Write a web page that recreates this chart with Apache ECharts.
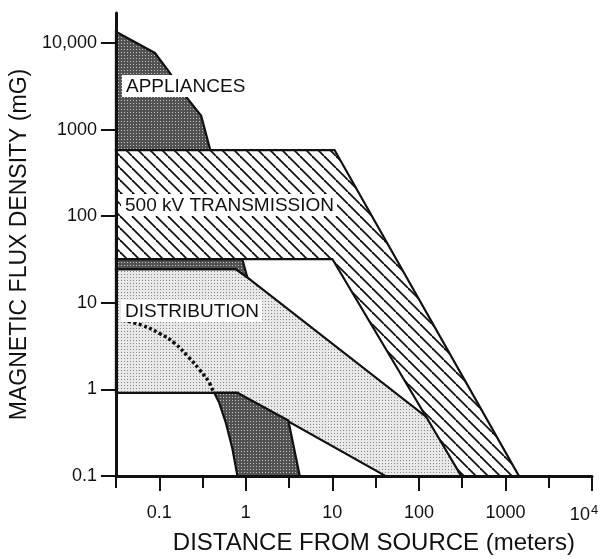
<!DOCTYPE html>
<html>
<head>
<meta charset="utf-8">
<script src="https://cdn.jsdelivr.net/npm/echarts@6/dist/echarts.min.js"></script>
<style>
html,body{margin:0;padding:0;background:#fff;}
#chart{width:611px;height:560px;}
</style>
</head>
<body>
<div id="chart"></div>
<script>
// ---------- data (distance in meters, flux density in mG) ----------
const xTicks = [0.1, 1, 10, 100, 1000, 10000];
const xTickLabels = ['0.1', '1', '10', '100', '1000', '{b|10}{s|4}'];
const xHalfTicks = [0.0316, 0.316, 3.16, 31.6, 316, 3162];
const yTicks = [0.1, 1, 10, 100, 1000, 10000];
const yTickLabels = ['0.1', '1', '10', '100', '1000', '10,000'];

const appliancesX = [0.0316, 0.089, 0.132, 0.206, 0.305, 0.389, 0.0316];
const appliancesY = [13500, 7670, 4560, 2370, 1445, 580, 580];

const transmissionX = [0.0316, 10.6, 1430, 309, 10, 0.0316];
const transmissionY = [580, 580, 0.1, 0.1, 32, 32];

const upperBandX = [0.0316, 0.91, 1.04, 0.766, 0.0316];
const upperBandY = [32, 32, 19.7, 24.5, 24.5];

const distributionX = [0.0316, 0.766, 1.04, 126, 309, 41, 0.80, 0.0316];
const distributionY = [24.5, 24.5, 19.7, 0.469, 0.1, 0.1, 0.912, 0.912];

const lowerBandX = [0.432, 0.80, 3.1, 4.2, 0.80, 0.70, 0.587, 0.493];
const lowerBandY = [0.912, 0.912, 0.438, 0.1, 0.1, 0.206, 0.414, 0.70];

const dottedX = [0.0379, 0.063, 0.102, 0.151, 0.214, 0.292, 0.379, 0.42];
const dottedY = [6.3, 5.5, 4.4, 3.4, 2.4, 1.69, 1.19, 0.93];

const labelTexts = ['APPLIANCES', '500 kV TRANSMISSION', 'DISTRIBUTION'];

// ---------- fill patterns ----------
function makeTile(w, h, draw) {
  const c = document.createElement('canvas');
  c.width = w; c.height = h;
  draw(c.getContext('2d'));
  return c;
}
const darkTile = makeTile(3, 3, g => {
  g.fillStyle = '#525252'; g.fillRect(0, 0, 3, 3);
  g.fillStyle = '#c0c0c0'; g.fillRect(1, 1, 1, 1);
});
const lightTile = makeTile(3, 3, g => {
  g.fillStyle = '#e8e8e8'; g.fillRect(0, 0, 3, 3);
  g.fillStyle = '#888888'; g.fillRect(1, 1, 1, 1);
});
const hatchTile = makeTile(12, 12, g => {
  g.fillStyle = '#ffffff'; g.fillRect(0, 0, 12, 12);
  g.strokeStyle = '#111'; g.lineWidth = 1.8;
  [-12, 0, 12].forEach(o => {
    g.beginPath(); g.moveTo(o, 0); g.lineTo(o + 12, 12); g.stroke();
  });
});
const darkFill = { image: darkTile, repeat: 'repeat' };
const lightFill = { image: lightTile, repeat: 'repeat' };
const hatchFill = { image: hatchTile, repeat: 'repeat' };

function polySeries(name, xs, ys, fill, z) {
  return {
    type: 'custom',
    name: name,
    coordinateSystem: 'cartesian2d',
    data: xs.map((x, i) => [x, ys[i]]),
    encode: { x: 0, y: 1 },
    z: z,
    silent: true,
    renderItem: function (params, api) {
      if (params.dataIndex !== 0) return null;
      const pts = xs.map((x, i) => api.coord([x, ys[i]]));
      return {
        type: 'polygon',
        shape: { points: pts },
        style: { fill: fill, stroke: '#111', lineWidth: 2.2, lineJoin: 'miter' }
      };
    }
  };
}

function labelIndex(arr, v) {
  return arr.findIndex(t => Math.abs(Math.log10(t) - Math.log10(v)) < 1e-4);
}

const FONT = '"Liberation Sans", Arial, Helvetica, sans-serif';

const chart = echarts.init(document.getElementById('chart'), null, { renderer: 'canvas' });

const option = {
  backgroundColor: '#ffffff',
  animation: false,
  grid: { left: 112, right: 19, top: 13, bottom: 79, containLabel: false },
  xAxis: [
    {
      type: 'log', min: 0.0316, max: 10000, z: 10,
      name: 'DISTANCE FROM SOURCE (meters)',
      nameLocation: 'middle', nameGap: 55,
      nameTextStyle: { fontFamily: FONT, fontSize: 24, color: '#111', padding: [0, 0, 0, 40] },
      axisLine: { show: true, onZero: false, lineStyle: { color: '#111', width: 3 } },
      axisTick: { show: true, inside: false, length: 15, lineStyle: { color: '#111', width: 2 }, customValues: xTicks },
      axisLabel: {
        show: true, margin: 28, color: '#111', fontFamily: FONT, fontSize: 18,
        customValues: xTicks,
        formatter: v => { const i = labelIndex(xTicks, v); return i >= 0 ? xTickLabels[i] : ''; },
        rich: {
          b: { fontFamily: FONT, fontSize: 18, color: '#111' },
          s: { fontFamily: FONT, fontSize: 13, color: '#111', verticalAlign: 'top', padding: [0, 16, 10, 1] }
        }
      },
      splitLine: { show: false }, minorTick: { show: false }, minorSplitLine: { show: false }
    },
    {
      type: 'log', min: 0.0316, max: 10000, z: 10, position: 'bottom', offset: 0,
      axisLine: { show: false, onZero: false },
      axisTick: { show: true, inside: false, length: 12, lineStyle: { color: '#111', width: 2 }, customValues: xHalfTicks },
      axisLabel: { show: false },
      splitLine: { show: false }
    }
  ],
  yAxis: [
    {
      type: 'log', min: 0.1, max: 22200, z: 10,
      name: 'MAGNETIC FLUX DENSITY (mG)',
      nameLocation: 'middle', nameGap: 70,
      nameTextStyle: { fontFamily: FONT, fontSize: 23, color: '#111', padding: [0, 0, 0, 0] },
      axisLine: { show: true, onZero: false, lineStyle: { color: '#111', width: 3 } },
      axisTick: { show: true, inside: false, length: 15, lineStyle: { color: '#111', width: 2 }, customValues: yTicks },
      axisLabel: {
        show: true, margin: 19, color: '#111', fontFamily: FONT, fontSize: 18,
        customValues: yTicks,
        formatter: v => { const i = labelIndex(yTicks, v); return i >= 0 ? yTickLabels[i] : ''; }
      },
      splitLine: { show: false }
    }
  ],
  series: [
    polySeries('Distribution', distributionX, distributionY, lightFill, 2),
    polySeries('Distribution (upper band)', upperBandX, upperBandY, darkFill, 3),
    polySeries('Distribution (lower band)', lowerBandX, lowerBandY, darkFill, 3),
    polySeries('500 kV Transmission', transmissionX, transmissionY, hatchFill, 4),
    polySeries('Appliances', appliancesX, appliancesY, darkFill, 3),
    {
      type: 'line', name: 'dotted', z: 5, silent: true,
      data: dottedX.map((x, i) => [x, dottedY[i]]),
      smooth: true, symbol: 'none',
      lineStyle: { color: '#111', width: 3.5, type: [3, 2.5] }
    }
  ],
  graphic: [
    { type: 'text', left: 122, top: 75, z: 100,
      style: { text: labelTexts[0], font: '19px ' + FONT, fill: '#111', backgroundColor: '#fff', padding: [2, 3, 1, 4] } },
    { type: 'text', left: 121, top: 194, z: 100,
      style: { text: labelTexts[1], font: '19px ' + FONT, fill: '#111', backgroundColor: '#fff', padding: [2, 3, 1, 4] } },
    { type: 'text', left: 121, top: 300, z: 100,
      style: { text: labelTexts[2], font: '19px ' + FONT, fill: '#111', backgroundColor: '#fff', padding: [2, 3, 1, 4] } }
  ]
};
chart.setOption(option);
</script>
</body>
</html>
